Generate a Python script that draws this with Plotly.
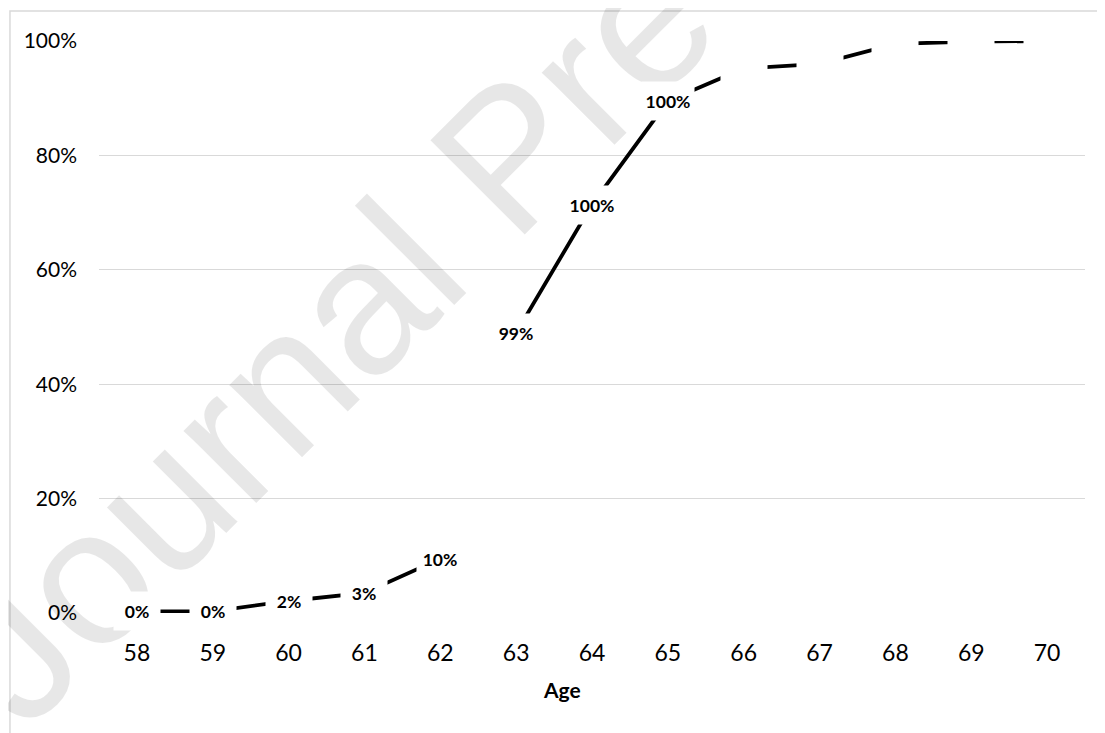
import plotly.graph_objects as go

# ---- data ----
ages_a = ["58", "59", "60", "61", "62"]
vals_a = [0.003, 0.003, 0.021, 0.035, 0.095]
labels_a = ["0%", "0%", "2%", "3%", "10%"]

ages_b = ["63", "64", "65", "66", "67", "68", "69", "70"]
vals_b = [0.49, 0.714, 0.895, 0.952, 0.960, 0.995, 0.999, 1.0]
labels_b = ["99%", "100%", "100%", "", "", "", "", ""]

categories = ages_a + ages_b
y_ticks = [0, 0.2, 0.4, 0.6, 0.8, 1.0]

FONT = "Lato"

fig = go.Figure()
for xs, ys in ((ages_a, vals_a), (ages_b, vals_b)):
    fig.add_trace(go.Scatter(
        x=xs, y=ys, mode="lines",
        line=dict(color="black", width=3.8),
        cliponaxis=False, showlegend=False, hoverinfo="skip",
    ))

annotations = [
    # watermark
    dict(text="Journal Pre-proof", xref="paper", yref="paper",
         x=0.415, y=0.80, xanchor="center", yanchor="middle",
         textangle=-45, showarrow=False,
         font=dict(family="Liberation Sans", size=194, color="rgba(0,0,0,0.095)")),
    # axis title
    dict(text="<b>Age</b>", xref="paper", yref="paper", x=0.4696, y=-0.134,
         xanchor="center", yanchor="middle", showarrow=False,
         font=dict(family=FONT, size=21, color="black")),
]

for xs, ys, labs in ((ages_a, vals_a, labels_a), (ages_b, vals_b, labels_b)):
    for xv, yv, lab in zip(xs, ys, labs):
        annotations.append(dict(
            x=categories.index(xv), y=yv, xref="x", yref="y",
            text=f"<b>{lab}</b>" if lab else "&nbsp;",
            showarrow=False, xanchor="center", yanchor="middle",
            bgcolor="white", width=50 if len(lab) > 3 else 44, height=36,
            font=dict(family=FONT, size=17.5, color="black"),
        ))

fig.update_layout(
    width=1105, height=733,
    margin=dict(l=91, r=28, t=33, b=128),
    paper_bgcolor="white", plot_bgcolor="white",
    font=dict(family=FONT, color="black"),
    annotations=annotations,
    shapes=[dict(type="rect", xref="paper", yref="paper",
                 x0=-0.0903, x1=1.03, y0=-0.25, y1=1.0524,
                 line=dict(color="#d9d9d9", width=1.5), layer="below")],
    xaxis=dict(type="category", categoryorder="array", categoryarray=categories,
               range=[-0.5, len(categories) - 0.5],
               showgrid=False, showline=False, zeroline=False, ticks="",
               tickfont=dict(family=FONT, size=23, color="black"),
               ticklabelstandoff=24),
    yaxis=dict(range=[0, 1], tickvals=y_ticks, tickformat=".0%",
               showgrid=True, gridcolor="#d9d9d9", gridwidth=1.3,
               zeroline=False, showline=False, ticks="",
               tickfont=dict(family=FONT, size=21, color="black"),
               ticklabelstandoff=21),
)

fig.write_html("out.html")
